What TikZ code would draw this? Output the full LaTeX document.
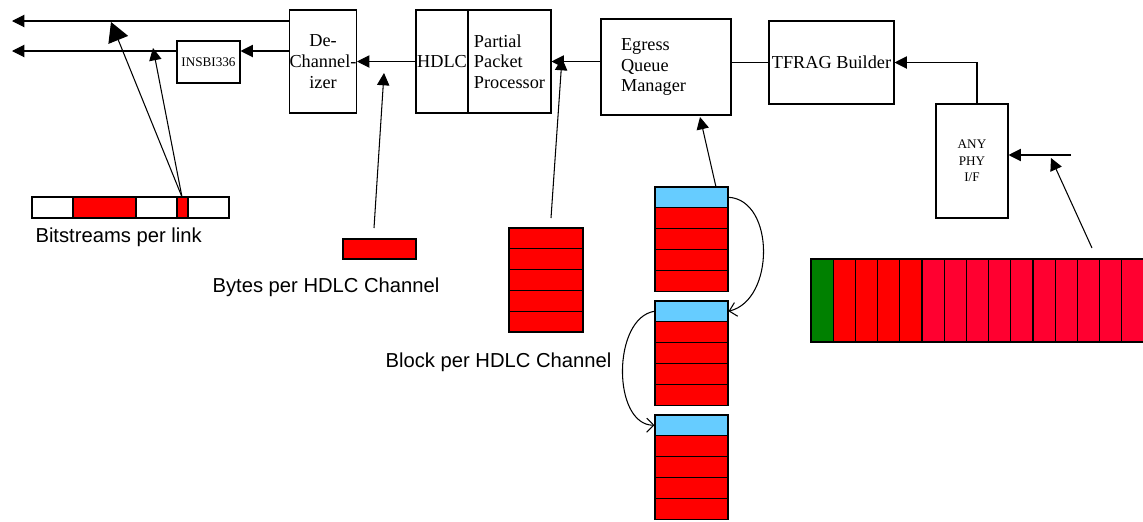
\documentclass[tikz,border=0pt]{standalone}
\usepackage{fontspec}
\setmainfont{Liberation Serif}
\setsansfont{Liberation Sans}
\usetikzlibrary{arrows.meta}

\definecolor{cellred}{RGB}{255,0,0}
\definecolor{cellcrimson}{RGB}{255,0,48}
\definecolor{cellgreen}{RGB}{0,128,0}
\definecolor{hdrblue}{RGB}{102,204,255}

\begin{document}
\begin{tikzpicture}[x=0.02cm, y=-0.02cm, line width=0.6pt,
    box/.style={draw, rectangle, inner sep=0pt, font=\fontsize{10.4}{11.8}\selectfont},
    smallbox/.style={box, font=\fontsize{7.5}{9.4}\selectfont},
    lbl/.style={font=\sffamily\fontsize{11.5}{13}\selectfont, inner sep=0pt},
    arr/.style={-{Triangle[length=7pt,width=7pt]}},
    bigarr/.style={-{Triangle[length=11pt,width=12pt]}},
    link/.style={-{Straight Barb[length=4pt,width=8pt]}},
    redcell/.style={draw, fill=cellred},
    hdr/.style={draw, fill=hdrblue, minimum width=1.46cm, minimum height=0.41cm, inner sep=0pt}]

    % Fix the page to the size of the reference
    \useasboundingbox (0,0) rectangle (1143,521);

    % Processing blocks along the top
    \node[box, minimum width=1.24cm, minimum height=2.06cm, align=center] (dechan) at (323,61.5) {De-\\Channel-\\izer};
    \node[smallbox, minimum width=1.26cm, minimum height=0.84cm] (insbi) at (208.5,62) {INSBI336};
    \node[box, minimum width=1.04cm, minimum height=2.06cm] (hdlc) at (442,61.5) {HDLC};
    \node[box, minimum width=1.66cm, minimum height=2.06cm, align=left] (ppp) at (509.5,61.5) {Partial\\Packet\\Processor};
    \node[box, minimum width=2.6cm, minimum height=1.92cm, align=left, text width=1.8cm] (egress) at (666,67) {Egress\\Queue\\Manager};
    \node[box, minimum width=2.5cm, minimum height=1.66cm] (tfrag) at (831.5,62.5) {TFRAG Builder};
    \node[smallbox, minimum width=1.44cm, minimum height=2.28cm, align=center] (anyphy) at (972,161) {ANY\\PHY\\I/F};

    % Free ends of the outgoing and incoming lines
    \coordinate (lane1) at (12,21);
    \coordinate (lane2) at (12,51);
    \coordinate (phyin) at (1071,155);

    % Data path from right to left
    \draw[arr] (dechan.west |- lane1) -- (lane1);
    \draw[arr] (insbi.west |- lane2) -- (lane2);
    \draw[arr] (dechan.west |- lane2) -- (insbi.east |- lane2);
    \draw[arr] (hdlc.west) -- (dechan.east);
    \draw[arr] (egress.west |- ppp.east) -- (ppp.east);
    \draw (tfrag.west) -- (tfrag.west -| egress.east);
    \draw[arr] ([xshift=0.1cm]anyphy.north) |- (tfrag.east);
    \draw[arr] (phyin) -- (phyin -| anyphy.east);

    % Bitstreams per link
    \foreach \a/\b/\c in {32/73/white,73/136/cellred,136/177/white,177/188/cellred,188/229/white}
        \draw[fill=\c] (\a,197) rectangle (\b,218);
    \node[lbl, anchor=west] (bitslbl) at (35,237) {Bitstreams per link};
    \coordinate (bsrc) at (182,197);
    \coordinate (btip1) at (111,22);
    \coordinate (btip2) at (153,48);
    \draw[bigarr] (bsrc) -- (btip1);
    \draw[arr] (bsrc) -- (btip2);

    % Bytes per HDLC channel
    \node[redcell, minimum width=1.46cm, minimum height=0.4cm, inner sep=0pt] (bytes) at (379.5,249) {};
    \node[lbl] (byteslbl) at (326,287) {Bytes per HDLC Channel};
    \coordinate (bytestail) at (374,228);
    \coordinate (bytestip) at (384,73);
    \draw[arr] (bytestail) -- (bytestip);

    % Block per HDLC channel
    \foreach \i in {0,...,4}
        \draw[redcell] (509,{228+20.8*\i}) rectangle ++(74,20.8);
    \node[lbl] (blocklbl) at (498.5,362) {Block per HDLC Channel};
    \coordinate (blocktail) at (551,218);
    \coordinate (blocktip) at (562,58);
    \draw[arr] (blocktail) -- (blocktip);

    % Linked queue of blocks
    \foreach \top/\n in {187/1,301/2,415/3} {
        \node[hdr] (q\n) at (691.5,\top+10.25) {};
        \foreach \i in {0,...,3}
            \draw[redcell] (655,{\top+20.5+21*\i}) rectangle ++(73,21);
    }
    \draw[link] (q1.east) .. controls (775,200) and (775,300) .. (q2.east);
    \draw[link] (q2.west) .. controls (612,318) and (612,425) .. (q3.west);
    \coordinate (qtail) at (716,187);
    \coordinate (qtip) at (700,117);
    \draw[arr] (qtail) -- (qtip);

    % Incoming packet stream
    \draw[fill=cellgreen] (811,259) rectangle ++(22.2,83);
    \foreach \i in {1,...,4}
        \draw[fill=cellred] ({811+22.2*\i},259) rectangle ++(22.2,83);
    \foreach \i in {5,...,14}
        \draw[fill=cellcrimson] ({811+22.2*\i},259) rectangle ++(22.2,83);
    \coordinate (pkttail) at (1092,248);
    \coordinate (pkttip) at (1051,158);
    \draw[arr] (pkttail) -- (pkttip);

\end{tikzpicture}
\end{document}
